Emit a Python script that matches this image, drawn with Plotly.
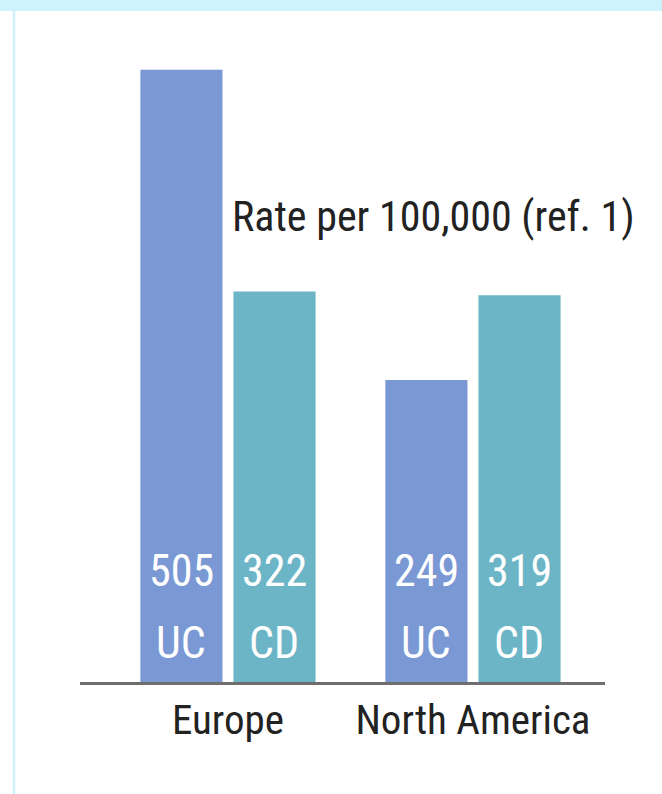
import plotly.graph_objects as go

regions = ["Europe", "North America"]
series_names = ["UC", "CD"]
uc_values = [505, 249]
cd_values = [322, 319]

uc_color = "#7a98d4"
cd_color = "#6cb5c7"
FONT = "Roboto Condensed, Liberation Sans Narrow, DejaVu Sans Condensed, sans-serif"

fig = go.Figure()
fig.add_trace(go.Bar(name="UC", x=regions, y=uc_values, marker_color=uc_color,
                     marker_line_width=0, hoverinfo="x+y"))
fig.add_trace(go.Bar(name="CD", x=regions, y=cd_values, marker_color=cd_color,
                     marker_line_width=0, hoverinfo="x+y"))

# in-bar labels (value + series), placed near the bottom of each bar
offsets = {"UC": -46.5, "CD": 46.5}
for name, vals in (("UC", uc_values), ("CD", cd_values)):
    for reg, v in zip(regions, vals):
        fig.add_annotation(x=reg, xref="x", xshift=offsets[name], y=0.178, yref="paper",
                           text=str(v), showarrow=False, xanchor="center", yanchor="middle",
                           font=dict(family=FONT, size=44, color="white"))
        fig.add_annotation(x=reg, xref="x", xshift=offsets[name], y=0.063, yref="paper",
                           text=name, showarrow=False, xanchor="center", yanchor="middle",
                           font=dict(family=FONT, size=44, color="white"))

fig.add_annotation(x=0.674, y=0.749, xref="paper", yref="paper", xanchor="center",
                   yanchor="middle", text="Rate per 100,000 (ref. 1)", showarrow=False,
                   font=dict(family=FONT, size=42, color="#222222"))

# frame decoration: light cyan top band and left rule
fig.add_shape(type="rect", xref="paper", yref="paper", x0=-0.2, x1=1.2, y0=1.0788, y1=1.2,
              fillcolor="#cff3fc", line_width=0, layer="below")
fig.add_shape(type="line", xref="paper", yref="paper", x0=-0.1257, x1=-0.1257, y0=-0.2, y1=1.08,
              line=dict(color="#cff3fc", width=2.5), layer="below")

fig.update_layout(
    width=662, height=794,
    margin=dict(l=80, r=57, t=60, b=112),
    barmode="group", bargap=0.24, bargroupgap=0.118,
    plot_bgcolor="white", paper_bgcolor="white",
    showlegend=False,
    font=dict(family=FONT, color="#222222"),
    xaxis=dict(type="category", range=[-0.604, 1.539], showline=True, linecolor="#6e6e6e",
               linewidth=3, ticks="", showgrid=False, zeroline=False,
               tickfont=dict(family=FONT, size=41, color="#222222")),
    yaxis=dict(range=[0, 513], visible=False, showgrid=False, zeroline=False),
)

fig.write_html("out.html")
